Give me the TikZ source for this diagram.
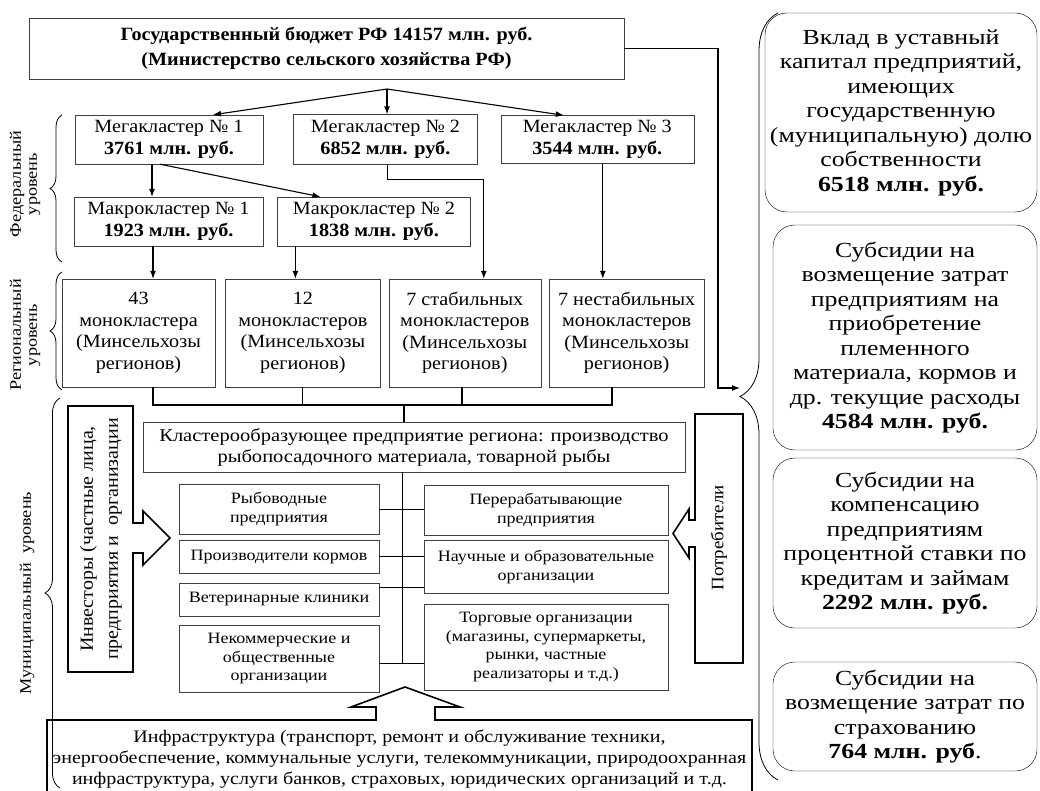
\documentclass[tikz,border=0pt]{standalone}
\usepackage{fontspec}
\setmainfont[FakeStretch=1.08]{Liberation Serif}
\newfontfamily\wideserif[FakeStretch=1.14]{Liberation Serif}
\newfontfamily\subserif[FakeStretch=1.2]{Liberation Serif}
\usetikzlibrary{arrows.meta,positioning,decorations.pathreplacing}

\begin{document}
\begin{tikzpicture}[
    x=1pt, y=-1pt,
    box/.style={draw=black!75, align=center, inner sep=1pt, font=\fontsize{18.7}{21.5}\selectfont},
    unit/.style={draw=black!75, align=center, inner sep=1pt, font=\wideserif\fontsize{15.8}{18.5}\selectfont},
    wide/.style={draw=black!75, align=center, inner sep=1pt, font=\wideserif\fontsize{18}{21}\selectfont},
    sub/.style={draw, rounded corners=22pt, align=center, inner sep=0pt, minimum width=264pt, font=\subserif\fontsize{21.5}{24.5}\selectfont},
    lvl/.style={rotate=90, align=center, font=\wideserif\fontsize{16}{16}\selectfont},
    arrow/.style={-{Latex[length=8pt,width=6pt]}, line width=1.1pt},
    link/.style={line width=0.9pt},
    bus/.style={line width=1.8pt},
    lvlbrace/.style={decorate, decoration={brace, amplitude=#1, aspect=0.5}, line width=0.8pt}
]
\useasboundingbox (0,0) rectangle (1040,791);

% budget and federal level
\node[box, font=\bfseries\fontsize{18.7}{25}\selectfont, minimum width=595pt, minimum height=61pt] (budget) at (326.5,48.5) {Государственный бюджет РФ 14157 млн. руб.\\(Министерство сельского хозяйства РФ)};
\node[box, minimum width=188pt, minimum height=49pt] (mega1) at (169,139.5) {Мегакластер № 1\\\textbf{3761 млн. руб.}};
\node[box, minimum width=184pt, minimum height=50pt, right=30pt of mega1] (mega2) {Мегакластер № 2\\\textbf{6852 млн. руб.}};
\node[box, minimum width=193pt, minimum height=48pt, right=23pt of mega2] (mega3) {Мегакластер № 3\\\textbf{3544 млн. руб.}};
\node[box, minimum width=189pt, minimum height=49pt] (macro1) at (168.5,221.5) {Макрокластер № 1\\\textbf{1923 млн. руб.}};
\node[box, minimum width=193pt, minimum height=49pt, right=14pt of macro1] (macro2) {Макрокластер № 2\\\textbf{1838 млн. руб.}};

% regional level
\node[box, minimum width=153pt, minimum height=108pt] (reg1) at (138.5,333) {43\\монокластера\\(Минсельхозы\\регионов)};
\node[box, minimum width=155pt, minimum height=108pt, right=10pt of reg1] (reg2) {12\\монокластеров\\(Минсельхозы\\регионов)};
\node[box, minimum width=152pt, minimum height=108pt, right=8pt of reg2] (reg3) {7 стабильных\\монокластеров\\(Минсельхозы\\регионов)};
\node[box, minimum width=155pt, minimum height=108pt, right=8pt of reg3] (reg4) {7 нестабильных\\монокластеров\\(Минсельхозы\\регионов)};

\coordinate (fork) at (387,89);
\coordinate (tip) at (740,388);
\coordinate (bus) at (404,405);
\coordinate (spine) at (402,663);

% municipal level
\node[wide, minimum width=542pt, minimum height=50pt] (clust) at (414,447) {Кластерообразующее предприятие региона: производство\\рыбопосадочного материала, товарной рыбы};
\node[unit, minimum width=200pt, minimum height=50pt] (fish) at (279,509) {Рыбоводные\\предприятия};
\node[unit, minimum width=200pt, minimum height=33pt, below=6pt of fish] (feed) {Производители кормов};
\node[unit, minimum width=200pt, minimum height=33pt, below=9pt of feed] (vet) {Ветеринарные клиники};
\node[unit, minimum width=200pt, minimum height=67pt, below=9pt of vet] (ngo) {Некоммерческие и\\общественные\\организации};
\node[unit, minimum width=244pt, minimum height=50pt] (proc) at (546,510) {Перерабатывающие\\предприятия};
\node[unit, minimum width=244pt, minimum height=53pt, below=5pt of proc] (sci) {Научные и образовательные\\организации};
\node[unit, minimum width=244pt, minimum height=86pt, below=10pt of sci] (trade) {Торговые организации\\(магазины, супермаркеты,\\рынки, частные\\реализаторы и т.д.)};
\node[draw, line width=1.6pt, align=center, inner sep=0pt, font=\wideserif\fontsize{17.6}{21}\selectfont, minimum width=705pt, minimum height=78pt] (infra) at (399.5,759) {Инфраструктура (транспорт, ремонт и обслуживание техники,\\энергообеспечение, коммунальные услуги, телекоммуникации, природоохранная\\инфраструктура, услуги банков, страховых, юридических организаций и т.д.};

% block arrows
\draw[line width=1.6pt] (68,406) -- (133,406) -- (133,523) -- (143,523) -- (143,511) -- (170,538) -- (143,565) -- (143,553) -- (133,553) -- (133,672) -- (68,672) -- cycle;
\node[rotate=90, align=center, font=\fontsize{18.5}{25}\selectfont] (inv) at (101,539) {Инвесторы (частные лица,\\предприятия и\ \ организации};
\draw[line width=1.6pt] (695,414) -- (743,414) -- (743,663) -- (695,663) -- (695,547) -- (689,547) -- (689,558) -- (673,533.5) -- (689,509) -- (689,520) -- (695,520) -- cycle;
\node[rotate=90, font=\fontsize{17.5}{21}\selectfont] (cons) at (719,538) {Потребители};
\fill[white] (376,722) -- (376,707) -- (351,707) -- (405,687) -- (460,707) -- (435,707) -- (435,722) -- cycle;
\draw[line width=1.6pt] (376,720.8) -- (376,707) -- (351,707) -- (405,687) -- (460,707) -- (435,707) -- (435,720.8);

% connectors
\draw[arrow] (fork) -- ([xshift=44pt]mega1.north);
\draw[arrow] (fork) -- (fork |- mega2.north);
\draw[arrow] (fork) -- ([xshift=-33.5pt]mega3.north);
\draw[arrow] ([xshift=-17pt]mega1.south) -- ([xshift=-17pt]mega1.south |- macro1.north);
\draw[arrow] ([xshift=-9pt]mega1.south) -- ([xshift=-53.5pt]macro2.north);
\draw[arrow] ([xshift=2pt]mega2.south) -- ++(0,15) -| ([xshift=19pt]reg3.north);
\draw[arrow] ([xshift=5.5pt]mega3.south) -- ([xshift=5.5pt]mega3.south |- reg4.north);
\draw[arrow] ([xshift=-15.5pt]macro1.south) -- ([xshift=-15.5pt]macro1.south |- reg1.north);
\draw[arrow] ([xshift=-78.5pt]macro2.south) -- ([xshift=-78.5pt]macro2.south |- reg2.north);
\draw[arrow] (budget.east) -| ([xshift=-22pt]tip) -- (tip);

\draw[bus] ([xshift=14.5pt]reg1.south) |- ([xshift=-14.5pt]reg4.south |- bus) -- ([xshift=-14.5pt]reg4.south);
\draw[link] (reg2.south) -- (reg2.south |- bus);
\draw[bus] ([xshift=-3pt]reg3.south) -- ([xshift=-3pt]reg3.south |- bus);
\draw[bus] (bus) -- (bus |- clust.north);

\draw[link] (spine |- clust.south) -- (spine);
\draw[link] (fish.east) -- (fish.east -| proc.west);
\draw[link] (feed.east) -- (feed.east -| sci.west);
\draw[link] ([yshift=11.5pt]vet.east) -- ([yshift=11.5pt]vet.east -| sci.west);
\draw[link] (ngo.east |- spine) -- (spine -| trade.west);

% level braces
\draw[lvlbrace=12] (62,262) -- (62,115);
\draw[lvlbrace=12] (62,390) -- (62,272);
\draw[lvlbrace=15] (60,788) -- (60,398);
\node[lvl] (fedlab) at (25,184) {Федеральный\\уровень};
\node[lvl] (reglab) at (25,335) {Региональный\\уровень};
\node[lvl] (munlab) at (27,593) {Муниципальный\ \ уровень};

% support measures
\draw[lvlbrace=38] (778,780) -- (778,13);
\node[sub, minimum width=272pt, minimum height=199pt] (sb1) at (901,112.5) {Вклад в уставный\\капитал предприятий,\\имеющих\\государственную\\(муниципальную) долю\\собственности\\\textbf{6518 млн. руб.}};
\node[sub, minimum height=225pt] (sb2) at (905,337.5) {Субсидии на\\возмещение затрат\\предприятиям на\\приобретение\\племенного\\материала, кормов и\\др. текущие расходы\\\textbf{4584 млн. руб.}};
\node[sub, minimum height=170pt] (sb3) at (905,543) {Субсидии на\\компенсацию\\предприятиям\\процентной ставки по\\кредитам и займам\\\textbf{2292 млн. руб.}};
\node[sub, minimum height=109pt] (sb4) at (905,716.5) {Субсидии на\\возмещение затрат по\\страхованию\\\textbf{764 млн. руб}.};
\end{tikzpicture}
\end{document}
